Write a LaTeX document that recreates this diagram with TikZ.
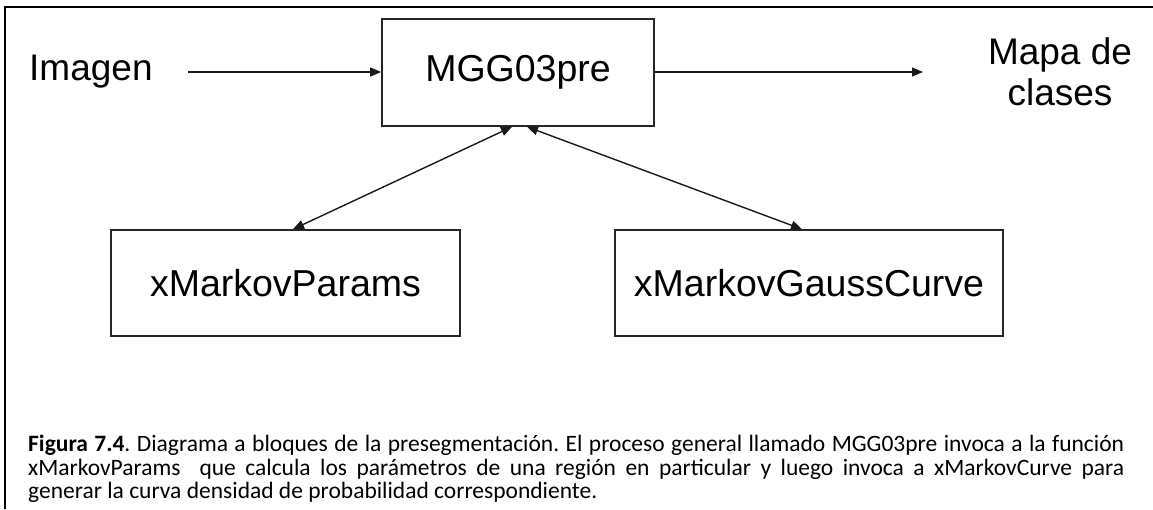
\documentclass[tikz,border=0pt]{standalone}
\usepackage{fontspec}
\setmainfont{Liberation Sans}
\newfontfamily\capfont{Carlito}
\usetikzlibrary{arrows.meta,calc}
\begin{document}
\begin{tikzpicture}[x=1pt,y=-1pt,
  blk/.style={draw=black!85,line width=1.6pt,inner sep=0pt,font=\fontsize{37.5}{42}\selectfont},
  lbl/.style={inner sep=0pt,font=\fontsize{37}{41}\selectfont,align=center},
  conn/.style={draw=black!90,line width=1.4pt},
  tip/.style={-{Triangle[length=11pt,width=9pt]}},
  dtip/.style={{Triangle[length=11pt,width=9pt]}-{Triangle[length=11pt,width=9pt]}},
  frame/.style={draw=black,line width=2pt}]
\useasboundingbox (0,0) rectangle (1153,509);
\draw[frame] (5,509) -- (5,7) -- (1153,7);
\node[blk,minimum width=272pt,minimum height=107pt] (mgg) at (518,72.5) {MGG03pre};
\node[blk,minimum width=349pt,minimum height=106pt] (params) at (285.5,283) {xMarkovParams};
\node[blk,minimum width=388pt,minimum height=106pt] (gauss) at (809,283) {xMarkovGaussCurve};
\node[lbl,anchor=west] (imagen) at (29,72) {Imagen};
\node[lbl] (mapa) at (1060,72) {Mapa de\\clases};
\coordinate (inS) at (188,72);
\coordinate (outE) at (923,72);
\draw[conn,tip] (inS) -- (mgg.west |- inS);
\draw[conn,tip] (mgg.east |- outE) -- (outE);
\draw[conn,dtip] ([xshift=-6pt]mgg.south) -- ([xshift=7.5pt]params.north);
\draw[conn,dtip] ([xshift=9pt]mgg.south) -- ([xshift=-7pt]gauss.north);
\node[anchor=north west,inner sep=0pt,text width=1096pt,align=justify,
  font=\capfont\fontsize{23.5}{23.5}\selectfont\frenchspacing] (caption) at (28,435)
  {\textbf{Figura 7.4}. Diagrama a bloques de la presegmentación. El proceso general llamado MGG03pre invoca a la función\linebreak
  xMarkovParams~ que calcula los parámetros de una región en particular y luego invoca a xMarkovCurve para\linebreak
  generar la curva densidad de probabilidad correspondiente.};
\end{tikzpicture}
\end{document}
